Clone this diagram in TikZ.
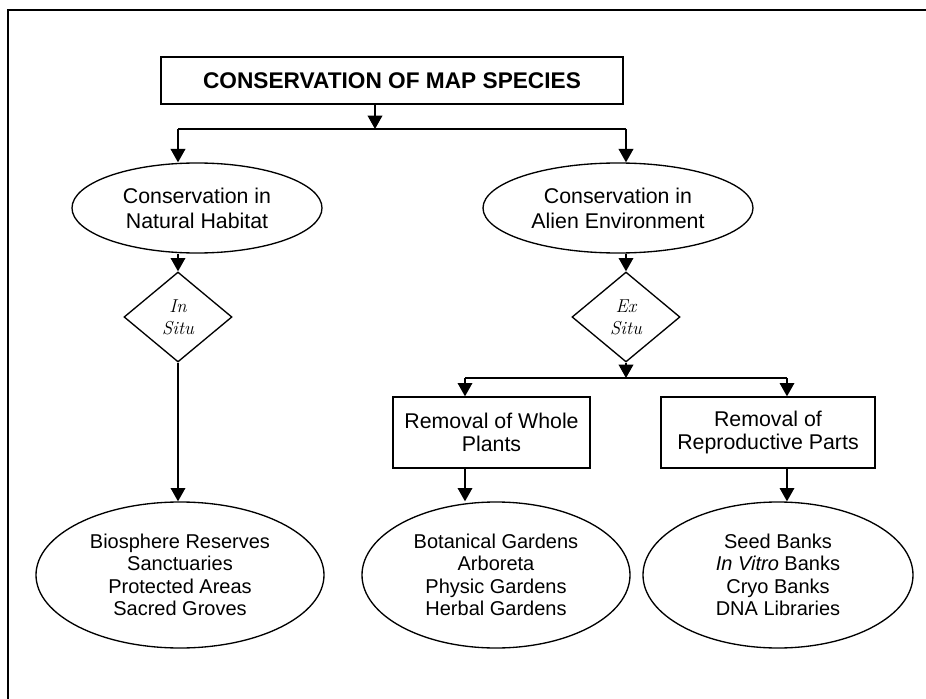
\documentclass[tikz,border=0pt]{standalone}
\usepackage{fontspec}
\newfontfamily\arial{Liberation Sans}
\usetikzlibrary{shapes.geometric,arrows.meta}
\begin{document}
\begin{tikzpicture}[x=0.75pt,y=-0.75pt, line width=1pt,
  >={Triangle[width=11pt,length=10pt]},
  lbl/.style={font=\arial\fontsize{16}{18.75}\selectfont, align=center},
  ell/.style={draw, ellipse, inner sep=0pt, lbl},
  boxnode/.style={draw, rectangle, inner sep=0pt, lbl},
  dia/.style={draw, diamond, inner sep=0pt, align=center,
    font=\fontsize{14}{16.5}\selectfont\itshape},
  lowell/.style={ell, minimum height=109.5pt,
    font=\arial\fontsize{15}{16.75}\selectfont}
]
\useasboundingbox (0,0) rectangle (926,699);
\draw[line width=1.6pt] (8,10) rectangle (960,740);

\node[boxnode, line width=1.2pt, minimum width=346.5pt, minimum height=35.25pt,
  font=\arial\bfseries\fontsize{17}{20}\selectfont] (title) at (392,80.5)
  {CONSERVATION OF MAP SPECIES};

\node[ell, minimum width=187.5pt, minimum height=67.5pt] (nat) at (197,208)
  {Conservation in\\Natural Habitat};
\node[ell, minimum width=202.5pt, minimum height=67.5pt] (ali) at (618,208)
  {Conservation in\\Alien Environment};

\node[dia, minimum width=81pt, minimum height=67.5pt] (ins) at (178,317) {In\\Situ};
\node[dia, minimum width=81pt, minimum height=67.5pt] (exs) at (626,317) {Ex\\Situ};

\node[boxnode, minimum width=147.75pt, minimum height=53.25pt,
  font=\arial\fontsize{16}{17.25}\selectfont] (wp) at (491.5,432.5)
  {Removal of Whole\\Plants};
\node[boxnode, minimum width=160.5pt, minimum height=53.25pt,
  font=\arial\fontsize{16}{17.25}\selectfont] (rp) at (768,432.5)
  {Removal of\\Reproductive Parts};

\node[lowell, minimum width=216pt] (bl) at (180,575)
  {Biosphere Reserves\\Sanctuaries\\Protected Areas\\Sacred Groves};
\node[lowell, minimum width=201pt] (bm) at (496,575)
  {Botanical Gardens\\Arboreta\\Physic Gardens\\Herbal Gardens};
\node[lowell, minimum width=202.5pt] (br) at (778,575)
  {Seed Banks\\\textit{In Vitro} Banks\\Cryo Banks\\DNA Libraries};

\coordinate (j0) at (375,129);
\coordinate (jl) at (178,129);
\coordinate (jr) at (626,129);
\coordinate (k0) at (626,378);
\coordinate (kl) at (465,378);
\coordinate (kr) at (787,378);

\draw[->] (title.south -| j0) -- (j0);
\draw (jl) -- (jr);
\draw[->] (jl) -- (jl |- nat.north);
\draw[->] (jr) -- (jr |- ali.north);
\draw[->] (jl |- nat.south) -- (ins.north);
\draw[->] (jr |- ali.south) -- (exs.north);
\draw[->] (exs.south) -- (k0);
\draw (kl) -- (kr);
\draw[->] (kl) -- (kl |- wp.north);
\draw[->] (kr) -- (kr |- rp.north);
\draw[->] (ins.south) -- (ins.south |- bl.north);
\draw[->] (kl |- wp.south) -- (kl |- bm.north);
\draw[->] (kr |- rp.south) -- (kr |- br.north);
\end{tikzpicture}
\end{document}
